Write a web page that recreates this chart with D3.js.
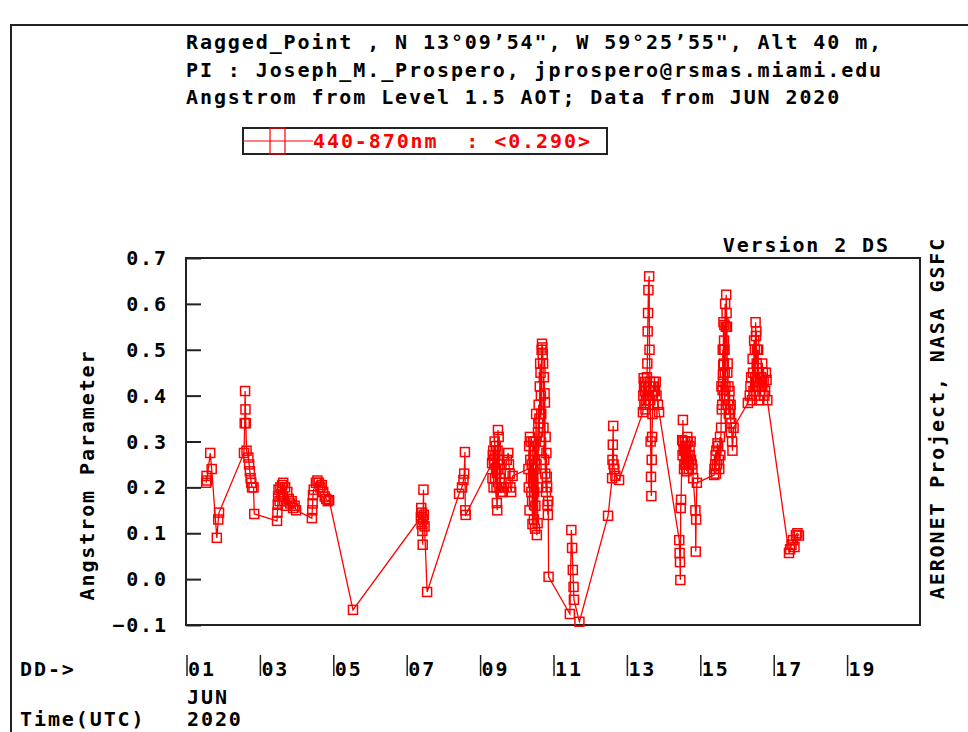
<!DOCTYPE html>
<html>
<head>
<meta charset="utf-8">
<script src="https://cdn.jsdelivr.net/npm/d3@7"></script>
<style>
    body { margin: 0; background: #fff; }
    text { font-family: "DejaVu Sans Mono", "Liberation Mono", monospace; font-weight: bold; font-size: 20px; letter-spacing: 1.9px; white-space: pre; }
</style>
</head>
<body>
<script>
// title lines
var titleLines = [
    "Ragged_Point , N 13\u00B009\u201954\", W 59\u00B025\u201955\", Alt 40 m,",
    "PI : Joseph_M._Prospero, jprospero@rsmas.miami.edu",
    "Angstrom from Level 1.5 AOT; Data from JUN 2020"
];
var legendLabel = "440-870nm  : <0.290>";
var yTicks = [-0.1, 0.0, 0.1, 0.2, 0.3, 0.4, 0.5, 0.6, 0.7];
var xTickDays = [1, 3, 5, 7, 9, 11, 13, 15, 17, 19];

// observations per day: [fractional day of June 2020 UTC, 440-870nm Angstrom]
var jun01 = [[1.55, 0.21], [1.56, 0.225], [1.57, 0.215], [1.66, 0.275], [1.70, 0.24],
    [1.84, 0.09], [1.88, 0.13], [1.90, 0.145]];
var jun02 = [[2.58, 0.275], [2.60, 0.34], [2.61, 0.41], [2.62, 0.37], [2.63, 0.34],
    [2.65, 0.28], [2.70, 0.265], [2.72, 0.25], [2.74, 0.235], [2.76, 0.22], [2.78, 0.21],
    [2.80, 0.20], [2.84, 0.20], [2.86, 0.142]];
var jun03 = [[3.48, 0.127], [3.49, 0.145], [3.50, 0.162], [3.51, 0.18], [3.52, 0.195],
    [3.55, 0.17], [3.57, 0.20], [3.60, 0.185], [3.62, 0.205], [3.65, 0.21], [3.67, 0.17],
    [3.70, 0.20], [3.72, 0.16], [3.76, 0.19], [3.80, 0.175], [3.84, 0.165], [3.88, 0.17],
    [3.92, 0.155], [3.96, 0.16], [4.00, 0.15]];
var jun04 = [[4.43, 0.133], [4.44, 0.15], [4.45, 0.165], [4.46, 0.183], [4.48, 0.195],
    [4.54, 0.21], [4.58, 0.215], [4.62, 0.21], [4.66, 0.20], [4.70, 0.205], [4.74, 0.19],
    [4.78, 0.18], [4.82, 0.175], [4.86, 0.17], [4.90, 0.172]];
var jun05 = [[5.55, -0.067]];
var jun07 = [[7.40, 0.135], [7.41, 0.155], [7.42, 0.12], [7.43, 0.145], [7.44, 0.105],
    [7.45, 0.075], [7.46, 0.13], [7.47, 0.195], [7.48, 0.14], [7.50, 0.115], [7.57, -0.028]];
var jun08 = [[8.44, 0.186], [8.52, 0.20], [8.56, 0.216], [8.58, 0.23], [8.60, 0.277],
    [8.61, 0.15], [8.62, 0.14]];
var jun09 = [[9.34, 0.253], [9.35, 0.22], [9.36, 0.27], [9.37, 0.28], [9.38, 0.20],
    [9.39, 0.26], [9.40, 0.25], [9.41, 0.30], [9.42, 0.22], [9.43, 0.27], [9.44, 0.29],
    [9.45, 0.24], [9.46, 0.20], [9.47, 0.166], [9.48, 0.15], [9.49, 0.28], [9.50, 0.325],
    [9.51, 0.24], [9.52, 0.31], [9.53, 0.26], [9.54, 0.20], [9.55, 0.22], [9.56, 0.25],
    [9.57, 0.19], [9.60, 0.21], [9.63, 0.19], [9.66, 0.20], [9.70, 0.23], [9.74, 0.26],
    [9.78, 0.275], [9.80, 0.25], [9.82, 0.23], [9.84, 0.20], [9.86, 0.19], [9.90, 0.225]];
var jun10 = [[10.33, 0.24], [10.34, 0.20], [10.35, 0.29], [10.36, 0.15], [10.37, 0.31],
    [10.38, 0.26], [10.39, 0.30], [10.40, 0.22], [10.41, 0.19], [10.42, 0.25], [10.43, 0.17],
    [10.44, 0.12], [10.45, 0.30], [10.46, 0.21], [10.47, 0.27], [10.48, 0.13], [10.49, 0.19],
    [10.50, 0.24], [10.51, 0.11], [10.52, 0.16], [10.53, 0.30], [10.54, 0.36], [10.55, 0.25],
    [10.56, 0.096], [10.57, 0.20], [10.58, 0.122], [10.59, 0.32], [10.60, 0.34], [10.61, 0.38],
    [10.62, 0.28], [10.63, 0.35], [10.64, 0.42], [10.65, 0.47], [10.66, 0.45], [10.67, 0.40],
    [10.68, 0.36], [10.69, 0.50], [10.70, 0.513], [10.71, 0.505], [10.72, 0.49], [10.73, 0.47],
    [10.74, 0.33], [10.75, 0.44], [10.76, 0.26], [10.77, 0.405], [10.78, 0.385], [10.79, 0.23],
    [10.80, 0.31], [10.81, 0.19], [10.82, 0.275], [10.83, 0.223], [10.84, 0.20], [10.85, 0.162],
    [10.86, 0.14], [10.87, 0.17], [10.88, 0.005]];
var jun11 = [[11.46, -0.076], [11.50, 0.107], [11.52, 0.068], [11.54, 0.02], [11.56, -0.017],
    [11.57, -0.045], [11.72, -0.093]];
var jun12 = [[12.50, 0.138], [12.61, 0.22], [12.62, 0.26], [12.63, 0.293], [12.64, 0.334],
    [12.65, 0.25], [12.67, 0.24], [12.70, 0.225], [12.80, 0.216]];
var jun13 = [[13.45, 0.364], [13.46, 0.40], [13.47, 0.438], [13.48, 0.42], [13.49, 0.38],
    [13.50, 0.41], [13.51, 0.43], [13.52, 0.37], [13.53, 0.39], [13.54, 0.42], [13.55, 0.40],
    [13.56, 0.44], [13.57, 0.47], [13.58, 0.54], [13.59, 0.58], [13.60, 0.63], [13.62, 0.66],
    [13.63, 0.50], [13.64, 0.43], [13.65, 0.39], [13.66, 0.30], [13.67, 0.223], [13.68, 0.181],
    [13.69, 0.26], [13.70, 0.31], [13.71, 0.36], [13.72, 0.40], [13.73, 0.42], [13.74, 0.38],
    [13.75, 0.43], [13.76, 0.41], [13.78, 0.41], [13.80, 0.43], [13.82, 0.40], [13.86, 0.38],
    [13.89, 0.364]];
var jun14 = [[14.44, 0.085], [14.45, 0.057], [14.46, 0.037], [14.47, -0.002], [14.48, 0.155],
    [14.49, 0.173], [14.52, 0.303], [14.53, 0.27], [14.54, 0.347], [14.55, 0.30], [14.56, 0.28],
    [14.57, 0.24], [14.58, 0.25], [14.59, 0.28], [14.60, 0.30], [14.61, 0.25], [14.62, 0.27],
    [14.63, 0.29], [14.64, 0.235], [14.65, 0.26], [14.66, 0.31], [14.67, 0.30], [14.68, 0.26],
    [14.69, 0.27], [14.70, 0.24], [14.71, 0.25], [14.72, 0.29], [14.73, 0.27], [14.75, 0.30],
    [14.76, 0.26], [14.78, 0.25], [14.80, 0.24], [14.82, 0.22], [14.88, 0.15], [14.89, 0.06],
    [14.90, 0.13], [14.92, 0.21]];
var jun15 = [[15.39, 0.227], [15.40, 0.24], [15.42, 0.25], [15.43, 0.27], [15.44, 0.23],
    [15.45, 0.28], [15.47, 0.25], [15.48, 0.296], [15.50, 0.29], [15.52, 0.26], [15.53, 0.24],
    [15.55, 0.31], [15.56, 0.27], [15.58, 0.33], [15.59, 0.42], [15.60, 0.37], [15.61, 0.38],
    [15.62, 0.412], [15.625, 0.50], [15.63, 0.445], [15.635, 0.43], [15.64, 0.467],
    [15.645, 0.56], [15.65, 0.50], [15.655, 0.47], [15.66, 0.52], [15.665, 0.40], [15.67, 0.554],
    [15.675, 0.50], [15.68, 0.45], [15.69, 0.60], [15.70, 0.42], [15.71, 0.55], [15.72, 0.62],
    [15.73, 0.58], [15.74, 0.55], [15.75, 0.45], [15.76, 0.47], [15.77, 0.38], [15.78, 0.42],
    [15.79, 0.36], [15.80, 0.39], [15.81, 0.41], [15.82, 0.35], [15.83, 0.37], [15.84, 0.38],
    [15.85, 0.32], [15.86, 0.34], [15.88, 0.30], [15.89, 0.28], [15.92, 0.33]];
var jun16 = [[16.31, 0.384], [16.36, 0.40], [16.38, 0.42], [16.40, 0.44], [16.42, 0.39],
    [16.44, 0.48], [16.45, 0.45], [16.46, 0.41], [16.48, 0.52], [16.50, 0.50], [16.51, 0.44],
    [16.52, 0.56], [16.53, 0.53], [16.54, 0.54], [16.55, 0.47], [16.56, 0.50], [16.57, 0.42],
    [16.58, 0.46], [16.59, 0.50], [16.60, 0.42], [16.61, 0.45], [16.62, 0.39], [16.63, 0.43],
    [16.64, 0.40], [16.66, 0.44], [16.68, 0.42], [16.70, 0.47], [16.72, 0.45], [16.74, 0.43],
    [16.76, 0.40], [16.78, 0.41], [16.80, 0.45], [16.82, 0.434], [16.84, 0.39]];
var jun17 = [[17.43, 0.057], [17.46, 0.065], [17.50, 0.075], [17.54, 0.085], [17.58, 0.07],
    [17.62, 0.096], [17.66, 0.10], [17.70, 0.095]];

var width = 968,
    height = 732,
    plot = {left: 186, right: 920, top: 258, bottom: 625};

var svg = d3.select('body')
    .append('svg')
    .attr('width', width)
    .attr('height', height);

var x = d3.scaleLinear().domain([1, 21]).range([plot.left, plot.right]);
var y = d3.scaleLinear().domain([-0.1, 0.7]).range([plot.bottom, plot.top]);

// outer frame (top and left edges only show)
svg.append("path")
    .attr("d", "M11," + height + "V25H" + width)
    .attr("fill", "none")
    .attr("stroke", "#222")
    .attr("stroke-width", 2);

// header
svg.selectAll("text.title")
    .data(titleLines)
    .enter()
    .append("text")
    .attr("class", "title")
    .attr("x", 186)
    .attr("y", function (d, i) { return 49 + i * 27.5; })
    .text(function (d) { return d; });

// legend box
svg.append("rect")
    .attr("x", 243).attr("y", 128)
    .attr("width", 364).attr("height", 26)
    .attr("fill", "none")
    .attr("stroke", "#222")
    .attr("stroke-width", 2);
svg.append("line")
    .attr("x1", 243).attr("x2", 313)
    .attr("y1", 141).attr("y2", 141)
    .attr("stroke", "red").attr("stroke-width", 1.2);
svg.append("rect")
    .attr("x", 270).attr("y", 128)
    .attr("width", 15).attr("height", 26)
    .attr("fill", "none")
    .attr("stroke", "red").attr("stroke-width", 1.2);
svg.append("text")
    .attr("x", 313).attr("y", 148)
    .attr("xml:space", "preserve")
    .style("fill", "red")
    .text(legendLabel);

// plot frame
svg.append("rect")
    .attr("x", plot.left).attr("y", plot.top)
    .attr("width", plot.right - plot.left)
    .attr("height", plot.bottom - plot.top)
    .attr("fill", "none")
    .attr("stroke", "#222")
    .attr("stroke-width", 2);

// y ticks, drawn inward
var yAxis = d3.axisRight(y)
    .tickValues(yTicks)
    .tickSize(15)
    .tickFormat("");
var gy = svg.append("g")
    .attr("transform", "translate(" + plot.left + ",0)")
    .call(yAxis);
gy.select(".domain").remove();
gy.selectAll(".tick line").attr("stroke", "#222").attr("stroke-width", 2);

svg.selectAll("text.ylab")
    .data(yTicks)
    .enter()
    .append("text")
    .attr("class", "ylab")
    .attr("x", 168)
    .attr("y", function (d) { return y(d) + 7; })
    .attr("text-anchor", "end")
    .text(function (d) { return d3.format(".1f")(d); });

// x day ticks below the plot
var gx = svg.append("g");
gx.selectAll("line")
    .data(xTickDays)
    .enter()
    .append("line")
    .attr("x1", function (d) { return x(d) + 1; })
    .attr("x2", function (d) { return x(d) + 1; })
    .attr("y1", 655).attr("y2", 676)
    .attr("stroke", "#222").attr("stroke-width", 1.5);
gx.selectAll("text")
    .data(xTickDays)
    .enter()
    .append("text")
    .attr("x", function (d) { return x(d) + 2; })
    .attr("y", 676)
    .text(function (d) { return d3.format("02d")(d); });

svg.append("text").attr("x", 20).attr("y", 676).text("DD->");
svg.append("text").attr("x", 187).attr("y", 704).text("JUN");
svg.append("text").attr("x", 20).attr("y", 726).text("Time(UTC)");
svg.append("text").attr("x", 187).attr("y", 726).text("2020");

// axis titles
svg.append("text")
    .attr("transform", "translate(94,475) rotate(-90)")
    .attr("text-anchor", "middle")
    .text("Angstrom Parameter");
svg.append("text")
    .attr("transform", "translate(944,418) rotate(-90)")
    .attr("text-anchor", "middle")
    .text("AERONET Project, NASA GSFC");
svg.append("text")
    .attr("x", 890).attr("y", 252)
    .attr("text-anchor", "end")
    .text("Version 2 DS");

// series
var points = [].concat(jun01, jun02, jun03, jun04, jun05, jun07, jun08, jun09,
    jun10, jun11, jun12, jun13, jun14, jun15, jun16, jun17);

var line = d3.line()
    .x(function (d) { return x(d[0]); })
    .y(function (d) { return y(d[1]); });

svg.append("path")
    .datum(points)
    .attr("d", line)
    .attr("fill", "none")
    .attr("stroke", "red")
    .attr("stroke-width", 1.3);

var s = 9;
svg.selectAll("rect.pt")
    .data(points)
    .enter()
    .append("rect")
    .attr("class", "pt")
    .attr("x", function (d) { return x(d[0]) - s / 2; })
    .attr("y", function (d) { return y(d[1]) - s / 2; })
    .attr("width", s)
    .attr("height", s)
    .attr("fill", "none")
    .attr("stroke", "red")
    .attr("stroke-width", 1.5);
</script>
</body>
</html>
